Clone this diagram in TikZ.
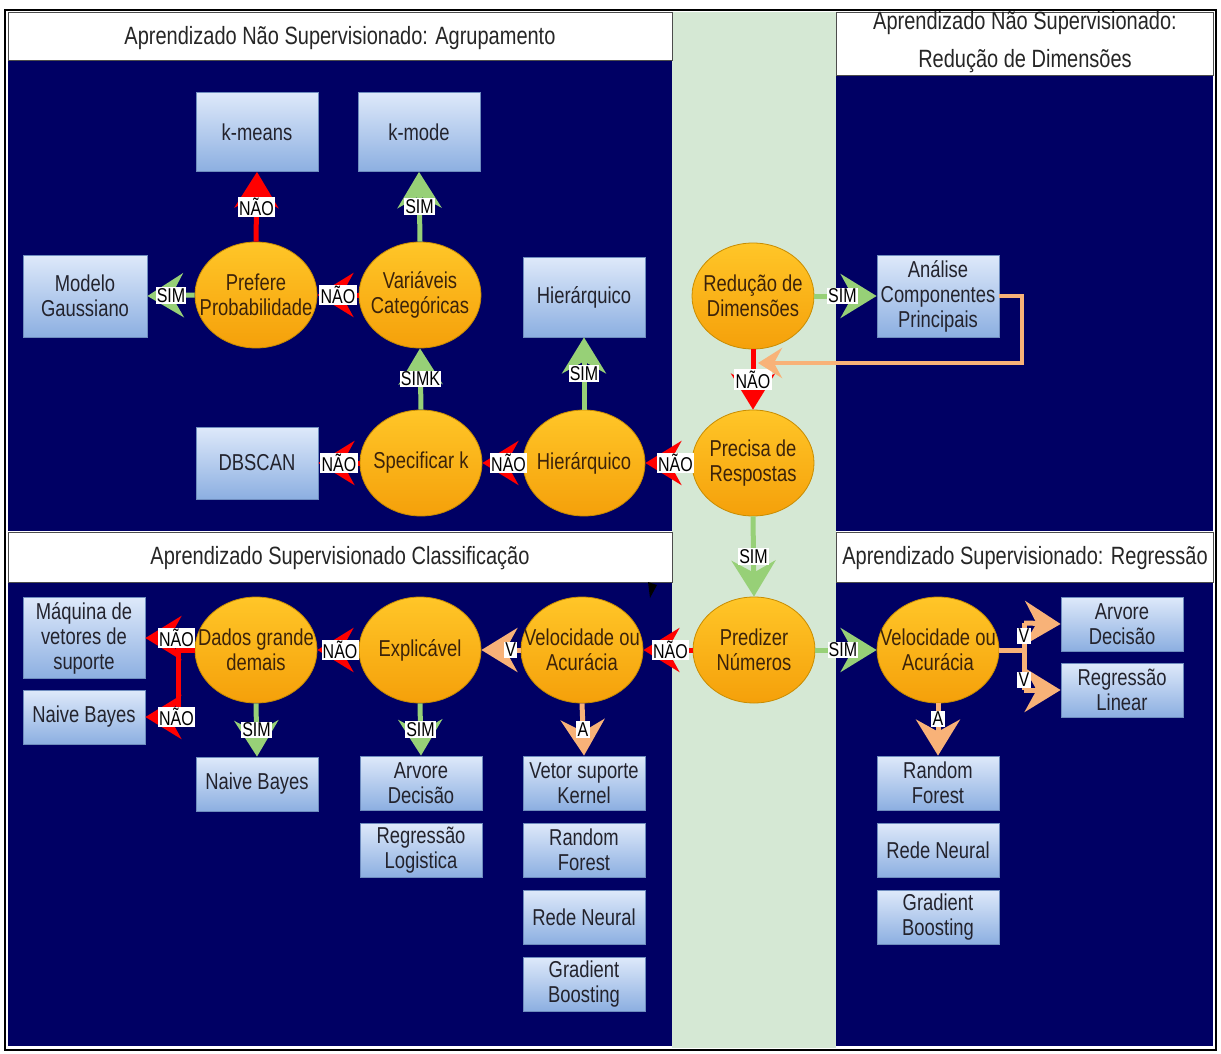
\documentclass[tikz,border=0pt]{standalone}
\usepackage{fontspec}
\setmainfont{Liberation Sans}[FakeStretch=0.8]
\usetikzlibrary{shapes.geometric,arrows.meta}
\definecolor{navy}{RGB}{0,0,100}
\definecolor{colgreen}{RGB}{213,232,212}
\definecolor{elltop}{RGB}{255,198,40}
\definecolor{ellbot}{RGB}{245,160,10}
\definecolor{elldraw}{RGB}{200,140,0}
\definecolor{boxtop}{RGB}{222,233,250}
\definecolor{boxbot}{RGB}{140,175,225}
\definecolor{boxdraw}{RGB}{110,140,190}
\definecolor{arrred}{RGB}{255,0,0}
\definecolor{arrgreen}{RGB}{151,208,119}
\definecolor{arrorange}{RGB}{248,178,120}
\definecolor{txtc}{RGB}{35,35,45}
\definecolor{ebrown}{RGB}{60,35,10}
\tikzset{
  box/.style={rectangle, draw=boxdraw, line width=0.8pt, top color=boxtop, bottom color=boxbot,
    minimum width=122pt, minimum height=54pt, align=center, inner sep=1pt, text=txtc,
    font=\fontsize{23}{25}\selectfont},
  ell/.style={ellipse, draw=elldraw, line width=0.8pt, top color=elltop, bottom color=ellbot,
    minimum width=122pt, minimum height=106pt, inner sep=0pt},
  elltxt/.style={align=center, text=ebrown, font=\fontsize{23}{25}\selectfont, inner sep=0pt},
  lbl/.style={fill=white, inner sep=1.2pt, text=black, font=\fontsize{20}{22}\selectfont},
  hdr/.style={align=center, font=\fontsize{25}{38}\selectfont, text=black!85},
  hdrbox/.style={fill=white, draw=gray!60!black, line width=0.8pt},
  rarr/.style={draw=arrred, line width=5pt, -{Stealth[length=36pt,width=44pt,inset=12pt]}},
  garr/.style={draw=arrgreen, line width=5pt, -{Stealth[length=36pt,width=44pt,inset=12pt]}},
  oarr/.style={draw=arrorange, line width=5pt, -{Stealth[length=36pt,width=44pt,inset=12pt]}},
  rline/.style={draw=arrred, line width=5pt},
  oline/.style={draw=arrorange, line width=5pt},
}
\begin{document}
\begin{tikzpicture}[x=1pt,y=-1pt]
\useasboundingbox (0,0) rectangle (1221,1054);
\fill[white] (0,0) rectangle (1221,1054);
% panels
\fill[navy] (8,60) rectangle (672,531);
\fill[navy] (836,75) rectangle (1213,531);
\fill[navy] (8,582) rectangle (672,1046);
\fill[navy] (836,582) rectangle (1213,1046);
\fill[colgreen] (672,12) rectangle (836,1048);
\draw[hdrbox] (8,12) rectangle (672,60);
\draw[hdrbox] (836,12) rectangle (1213,75);
\draw[hdrbox] (8,532) rectangle (672,582);
\draw[hdrbox] (836,532) rectangle (1213,582);
\draw[black, line width=1.5pt] (5,10) rectangle (1216,1050);
\node[hdr] (h1) at (340,38) {Aprendizado Não Supervisionado: Agrupamento};
\node[hdr] (h2) at (1025,42) {Aprendizado Não Supervisionado:\\Redução de Dimensões};
\node[hdr] (h3) at (340,558) {Aprendizado Supervisionado Classificação};
\node[hdr] (h4) at (1025,558) {Aprendizado Supervisionado: Regressão};

% top-left nodes
\node[box, minimum height=79pt] (kmeans) at (257,132) {k-means};
\node[box, minimum height=79pt] (kmode) at (419,132) {k-mode};
\node[box, minimum height=82pt, minimum width=124pt] (gauss) at (85,296) {Modelo\\Gaussiano};
\node[ell] (pref) at (256,295) {};
\node[elltxt] (preft) at (pref) {Prefere\\Probabilidade};
\node[ell] (varc) at (420,295) {};
\node[elltxt] (varct) at (varc) {Variáveis\\Categóricas};
\node[box, minimum height=80pt] (hierbox) at (584,297) {Hierárquico};
\node[box, minimum height=72pt] (dbscan) at (257,463) {DBSCAN};
\node[ell] (speck) at (421,463) {};
\node[elltxt] (speckt) at (speck) {Specificar k};
\node[ell] (hierell) at (584,463) {};
\node[elltxt] (hierellt) at (hierell) {Hierárquico};
\node[ell] (precisa) at (753,463) {};
\node[elltxt] (precisat) at (precisa) {Precisa de\\Respostas};
\node[ell] (reduc) at (753,296) {};
\node[elltxt] (reduct) at (reduc) {Redução de\\Dimensões};
\node[box, minimum height=82pt] (acp) at (938,296) {Análise\\Componentes\\Principais};

% bottom nodes
\node[ell] (pred) at (754,650) {};
\node[elltxt] (predt) at (pred) {Predizer\\Números};
\node[ell] (velL) at (582,650) {};
\node[elltxt] (velLt) at (velL) {Velocidade ou\\Acurácia};
\node[ell] (expl) at (420,650) {};
\node[elltxt] (explt) at (expl) {Explicável};
\node[ell] (dados) at (256,650) {};
\node[elltxt] (dadost) at (dados) {Dados grande\\demais};
\node[box, minimum height=81pt] (svm) at (84,638) {Máquina de\\vetores de\\suporte};
\node[box] (nbL) at (84,717) {Naive Bayes};
\node[box] (nbM) at (257,784) {Naive Bayes};
\node[box] (arvL) at (421,783) {Arvore\\Decisão};
\node[box] (reglog) at (421,850) {Regressão\\Logistica};
\node[box] (vsk) at (584,783) {Vetor suporte\\Kernel};
\node[box] (rfL) at (584,850) {Random\\Forest};
\node[box] (rnL) at (584,917) {Rede Neural};
\node[box] (gbL) at (584,984) {Gradient\\Boosting};
\node[ell] (velR) at (938,650) {};
\node[elltxt] (velRt) at (velR) {Velocidade ou\\Acurácia};
\node[box] (arvR) at (1122,624) {Arvore\\Decisão};
\node[box] (reglin) at (1122,690) {Regressão\\Linear};
\node[box] (rfR) at (938,783) {Random\\Forest};
\node[box] (rnR) at (938,850) {Rede Neural};
\node[box] (gbR) at (938,917) {Gradient\\Boosting};

% top arrows
\draw[rarr] (pref.north) -- (kmeans.south) node[lbl, midway] {NÃO};
\draw[garr] (varc.north) -- (kmode.south) node[lbl, midway] {SIM};
\draw[rarr] (varc.west) -- (pref.east) node[lbl, midway] {NÃO};
\draw[garr] (pref.west) -- (gauss.east) node[lbl, midway] {SIM};
\draw[garr] (speck.north) -- (varc.south) node[lbl, midway] {SIMK};
\draw[garr] (hierell.north) -- (hierbox.south) node[lbl, midway] {SIM};
\draw[rarr] (speck.west) -- (dbscan.east) node[lbl, midway] {NÃO};
\draw[rarr] (hierell.west) -- (speck.east) node[lbl, pos=0.35] {NÃO};
\draw[rarr] (precisa.west) -- (hierell.east) node[lbl, pos=0.35] {NÃO};
\draw[garr] (reduc.east) -- (acp.west) node[lbl, pos=0.45] {SIM};
\draw[rarr] (reduc.south) -- (precisa.north) node[lbl, midway] {NÃO};
\coordinate (loopend) at (758,363);
\draw[draw=arrorange, line width=4.5pt, -{Stealth[length=24pt,width=30pt,inset=8pt]}]
  (acp.east) -- (1022,296) -- (1022,363) -- (loopend);

% bottom arrows
\draw[garr] (precisa.south) -- (pred.north) node[lbl, midway] {SIM};
\draw[rarr] (pred.west) -- (velL.east) node[lbl, pos=0.45] {NÃO};
\draw[garr] (pred.east) -- (velR.west) node[lbl, pos=0.45] {SIM};
\draw[oarr] (velL.west) -- (expl.east) node[lbl, pos=0.25] {V};
\draw[oarr] (velL.south) -- (vsk.north) node[lbl, midway] {A};
\draw[rarr] (expl.west) -- (dados.east) node[lbl, pos=0.45] {NÃO};
\draw[garr] (expl.south) -- (arvL.north) node[lbl, midway] {SIM};
\draw[garr] (dados.south) -- (nbM.north) node[lbl, midway] {SIM};
\coordinate (dj) at (178,650);
\draw[rline] (dados.west) -- (dj) -- (178,717);
\draw[rarr] (178,638) -- (svm.east) node[lbl, pos=0.05, anchor=center] {NÃO};
\draw[rarr] (178,717) -- (nbL.east) node[lbl, pos=0.05, anchor=center] {NÃO};
\draw[oarr] (velR.south) -- (rfR.north) node[lbl, pos=0.3] {A};
\coordinate (vj) at (1024,650);
\draw[oline] (velR.east) -- (vj);
\draw[oline] (1024,623) -- (1024,690);
\draw[oarr] (1024,623) -- (arvR.west);
\draw[oarr] (1024,690) -- (reglin.west);
\node[lbl] (v1) at (1024,636) {V};
\node[lbl] (v2) at (1024,680) {V};
% small black mark
\fill[black] (648,582) -- (657,585) -- (650,598) -- cycle;
\end{tikzpicture}
\end{document}
